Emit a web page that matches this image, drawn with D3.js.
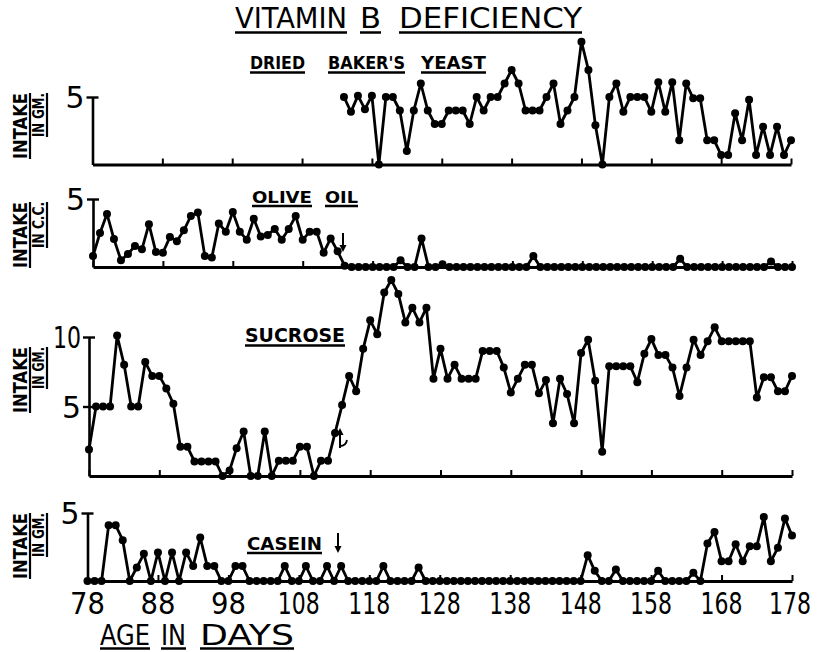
<!DOCTYPE html>
<html>
<head>
<meta charset="utf-8">
<script src="https://cdn.jsdelivr.net/npm/d3@7"></script>
<style>
body { margin: 0; background: #fff; }
</style>
</head>
<body>
<script>
// ---- data ----
var yeastDays = d3.range(114, 179);
var yeastValues = [
    5.0, 3.9, 5.1, 4.1, 5.1, 0, 5.0, 5.0, 4.0, 1.0,
    4.0, 6.0, 4.0, 3.0, 3.0, 4.0, 4.0, 4.0, 3.0, 5.0,
    4.0, 5.0, 5.0, 6.0, 7.0, 6.0, 4.0, 4.0, 4.0, 5.0,
    6.0, 3.0, 4.0, 5.0, 9.1, 7.0, 2.9, 0, 5.0, 6.0,
    3.9, 5.0, 5.0, 5.0, 3.9, 6.1, 3.9, 6.1, 1.8, 6.0,
    4.9, 4.9, 1.8, 1.8, 0.7, 0.7, 3.8, 1.8, 4.8, 0.7,
    2.8, 0.7, 2.8, 0.7, 1.8
];

var allDays = d3.range(78, 179);
var oliveValues = [
    0.8, 2.5, 3.9, 2.05, 0.5, 0.95, 1.55, 1.3, 3.15, 1.1,
    1.05, 2.2, 1.9, 2.7, 3.75, 4.0, 0.8, 0.7, 3.2, 2.6,
    4.05, 2.6, 2.0, 3.55, 2.25, 2.35, 2.8, 2.0, 2.8, 3.75,
    2.0, 2.6, 2.6, 1.05, 2.1, 1.15, 0.1, 0, 0, 0,
    0, 0, 0, 0, 0.5, 0, 0, 2.1, 0, 0,
    0.2, 0, 0, 0, 0, 0, 0, 0, 0, 0,
    0, 0, 0, 0.8, 0, 0, 0, 0, 0, 0,
    0, 0, 0, 0, 0, 0, 0, 0, 0, 0,
    0, 0, 0, 0, 0.6, 0, 0, 0, 0, 0,
    0, 0, 0, 0, 0, 0, 0, 0.4, 0, 0,
    0
];
var sucroseValues = [
    1.9, 5.0, 5.0, 5.0, 10.1, 8.0, 5.0, 5.0, 8.2, 7.2,
    7.2, 6.3, 5.2, 2.1, 2.1, 1.05, 1.05, 1.05, 1.05, 0,
    0.4, 2.0, 3.2, 0, 0, 3.2, 0, 1.1, 1.1, 1.1,
    2.1, 2.1, 0, 1.1, 1.1, 3.1, 5.1, 7.2, 6.1, 9.15,
    11.2, 10.2, 13.2, 14.1, 13.1, 11.05, 12.1, 11.05, 12.1, 7.0,
    9.15, 7.0, 8.0, 7.0, 7.0, 7.0, 9.0, 9.0, 9.0, 7.8,
    6.0, 7.0, 8.0, 8.0, 5.95, 6.9, 3.8, 7.0, 5.9, 3.8,
    8.85, 9.8, 6.85, 1.75, 7.9, 7.9, 7.9, 7.9, 6.75, 8.8,
    9.85, 8.7, 8.7, 7.8, 5.75, 7.8, 9.8, 8.7, 9.7, 10.7,
    9.7, 9.7, 9.7, 9.7, 9.7, 5.65, 7.1, 7.1, 6.1, 6.1,
    7.2
];
var caseinValues = [
    0, 0, 0, 4.1, 4.1, 3.0, 0, 1.0, 2.0, 0,
    2.1, 0, 2.1, 0, 2.1, 1.1, 3.2, 1.1, 1.1, 0,
    0, 1.1, 1.1, 0, 0, 0, 0, 0, 1.1, 0,
    0, 1.1, 0, 0, 1.1, 0, 1.1, 0, 0, 0,
    0, 0, 1.1, 0, 0, 0, 0, 1.0, 0, 0,
    0, 0, 0, 0, 0, 0, 0, 0, 0, 0,
    0, 0, 0, 0, 0, 0, 0, 0, 0, 0,
    0, 1.9, 0.75, 0, 0, 0.85, 0, 0, 0, 0,
    0, 0.75, 0, 0, 0, 0, 0.6, 0, 2.75, 3.6,
    1.45, 1.45, 2.7, 1.45, 2.55, 2.55, 4.7, 1.45, 2.45, 4.6,
    3.35
];
var xTickValues = [78, 88, 98, 108, 118, 128, 138, 148, 158, 168, 178];
var xTickLabels = ['78', '88', '98', '108', '118', '128', '138', '148', '158', '168', '178'];

// ---- drawing ----
var svg = d3.select('body').append('svg')
    .attr('width', 818)
    .attr('height', 652)
    .style('background', '#fff');

var FONT = "'DejaVu Sans Condensed','DejaVu Sans',sans-serif";
var INK = '#000';

function zip(days, vals) {
    return days.map(function (d, i) { return {day: d, v: vals[i]}; });
}

// underlined word
function uText(word, x, y, w, size, weight, ul) {
    svg.append('text')
        .attr('x', x)
        .attr('y', y)
        .attr('textLength', w)
        .attr('lengthAdjust', 'spacingAndGlyphs')
        .style('font-family', FONT)
        .style('font-size', size + 'px')
        .style('font-weight', weight)
        .attr('fill', INK)
        .text(word);
    if (ul) {
        svg.append('line')
            .attr('x1', x).attr('x2', x + w)
            .attr('y1', y + ul).attr('y2', y + ul)
            .attr('stroke', INK).attr('stroke-width', 2.5);
    }
}

// rotated "INTAKE / IN GM." label, text ends at yTop
function sideLabel(second, yTop, len2) {
    var g = svg.append('g');
    [['INTAKE', 27, 66, 19], [second, 44, len2, 16]].forEach(function (t) {
        var gg = g.append('g').attr('transform', 'translate(' + t[1] + ',' + yTop + ') rotate(-90)');
        gg.append('text')
            .attr('x', -t[2]).attr('y', 0)
            .attr('textLength', t[2])
            .attr('lengthAdjust', 'spacingAndGlyphs')
            .style('font-family', FONT)
            .style('font-size', t[3] + 'px')
            .style('font-weight', 'bold')
            .attr('fill', INK)
            .text(t[0]);
        gg.append('line')
            .attr('x1', -t[2]).attr('x2', 0)
            .attr('y1', 3).attr('y2', 3)
            .attr('stroke', INK).attr('stroke-width', 2.2);
    });
}

var panels = [
    {data: zip(yeastDays, yeastValues), x0: 92.5, x1: 791, y0: 164.5, yTop: 97, top: 5,
     ticks: [5], second: 'IN GM.', len2: 44, labelTop: 93},
    {data: zip(allDays, oliveValues), x0: 93, x1: 792, y0: 267, yTop: 199, top: 5,
     ticks: [5], second: 'IN C.C.', len2: 46, labelTop: 202},
    {data: zip(allDays, sucroseValues), x0: 89, x1: 792, y0: 476, yTop: 337, top: 10,
     ticks: [5, 10], second: 'IN GM.', len2: 42, labelTop: 347},
    {data: zip(allDays, caseinValues), x0: 87.5, x1: 792, y0: 581, yTop: 513, top: 5,
     ticks: [5], second: 'IN GM.', len2: 44, labelTop: 513}
];

var lastX;

panels.forEach(function (p) {
    var x = d3.scaleLinear().domain([78, 178]).range([p.x0, p.x1]);
    var y = d3.scaleLinear().domain([0, p.top]).range([p.y0, p.yTop]);
    lastX = x;

    // baseline with small day ticks
    var xa = svg.append('g')
        .attr('transform', 'translate(0,' + p.y0 + ')')
        .call(d3.axisBottom(x).tickValues(xTickValues).tickSize(-6).tickSizeOuter(0).tickFormat(''));
    xa.select('.domain').attr('stroke', INK).attr('stroke-width', 3.2);
    xa.selectAll('.tick line').attr('stroke', INK).attr('stroke-width', 2);

    // vertical axis
    var ya = svg.append('g')
        .attr('transform', 'translate(' + p.x0 + ',0)')
        .call(d3.axisLeft(y).tickValues(p.ticks).tickSize(6).tickSizeOuter(0).tickFormat(''));
    ya.select('.domain').attr('stroke', INK).attr('stroke-width', 2.6);
    ya.selectAll('.tick line').attr('x1', 6).attr('stroke', INK).attr('stroke-width', 2.4);

    p.ticks.forEach(function (t) {
        var lbl = String(t);
        svg.append('text')
            .attr('x', p.x0 - 8)
            .attr('y', y(t) + 11)
            .attr('text-anchor', 'end')
            .attr('textLength', lbl.length > 1 ? 28 : 19)
            .attr('lengthAdjust', 'spacingAndGlyphs')
            .style('font-family', FONT)
            .style('font-size', '31px')
            .attr('fill', INK)
            .text(lbl);
    });

    var line = d3.line()
        .x(function (d) { return x(d.day); })
        .y(function (d) { return y(d.v); });

    svg.append('path')
        .datum(p.data)
        .attr('d', line)
        .attr('fill', 'none')
        .attr('stroke', INK)
        .attr('stroke-width', 2.8)
        .attr('stroke-linejoin', 'round');

    svg.append('g').selectAll('circle')
        .data(p.data)
        .enter()
        .append('circle')
        .attr('cx', function (d) { return x(d.day); })
        .attr('cy', function (d) { return y(d.v); })
        .attr('r', 4)
        .attr('fill', INK);

    sideLabel(p.second, p.labelTop, p.len2);
});

// day labels under the bottom panel (the last one is right-aligned so it stays inside)
var nLab = xTickValues.length;
svg.append('g').selectAll('text')
    .data(xTickValues)
    .enter()
    .append('text')
    .attr('x', function (d, i) { return i === nLab - 1 ? lastX(d) + 19 : lastX(d); })
    .attr('y', 614)
    .attr('text-anchor', function (d, i) { return i === nLab - 1 ? 'end' : 'middle'; })
    .attr('textLength', function (d, i) { return xTickLabels[i].length > 2 ? 42 : 35; })
    .attr('lengthAdjust', 'spacingAndGlyphs')
    .style('font-family', FONT)
    .style('font-size', '31px')
    .attr('fill', INK)
    .text(function (d, i) { return xTickLabels[i]; });

// titles and series names
uText('VITAMIN', 235, 28, 112, 29, 'normal', 4.5);
uText('B', 360, 28, 21, 29, 'normal', 4.5);
uText('DEFICIENCY', 399, 28, 183, 29, 'normal', 4.5);

uText('DRIED', 250, 69, 55, 17, 'bold', 3.5);
uText("BAKER'S", 328, 69, 77, 17, 'bold', 3.5);
uText('YEAST', 421, 69, 65, 17, 'bold', 3.5);

uText('OLIVE', 252, 203, 60, 15, 'bold', 3);
uText('OIL', 325, 203, 33, 15, 'bold', 3);

uText('SUCROSE', 245, 342, 100, 19, 'bold', 3.5);
uText('CASEIN', 247, 550, 75, 17, 'bold', 3);

uText('AGE', 100, 645, 50, 28, 'normal', 3.5);
uText('IN', 161, 645, 25, 28, 'normal', 3.5);
uText('DAYS', 200, 645, 94, 28, 'normal', 3.5);

// arrows marking the diet changes
function arrow(xp, ya, yb) {
    // head at yb
    var dir = yb > ya ? 1 : -1;
    svg.append('line')
        .attr('x1', xp).attr('x2', xp)
        .attr('y1', ya).attr('y2', yb - dir * 3)
        .attr('stroke', INK).attr('stroke-width', 2);
    svg.append('path')
        .attr('d', 'M' + (xp - 3.5) + ',' + (yb - dir * 7) + 'L' + xp + ',' + yb + 'L' + (xp + 3.5) + ',' + (yb - dir * 7) + 'Z')
        .attr('fill', INK);
}
arrow(343, 233, 252);
arrow(338, 533, 553);
arrow(340, 448, 428);
svg.append('path')
    .attr('d', 'M340,446 Q346,446 347,440')
    .attr('fill', 'none')
    .attr('stroke', INK)
    .attr('stroke-width', 1.8);
</script>
</body>
</html>
